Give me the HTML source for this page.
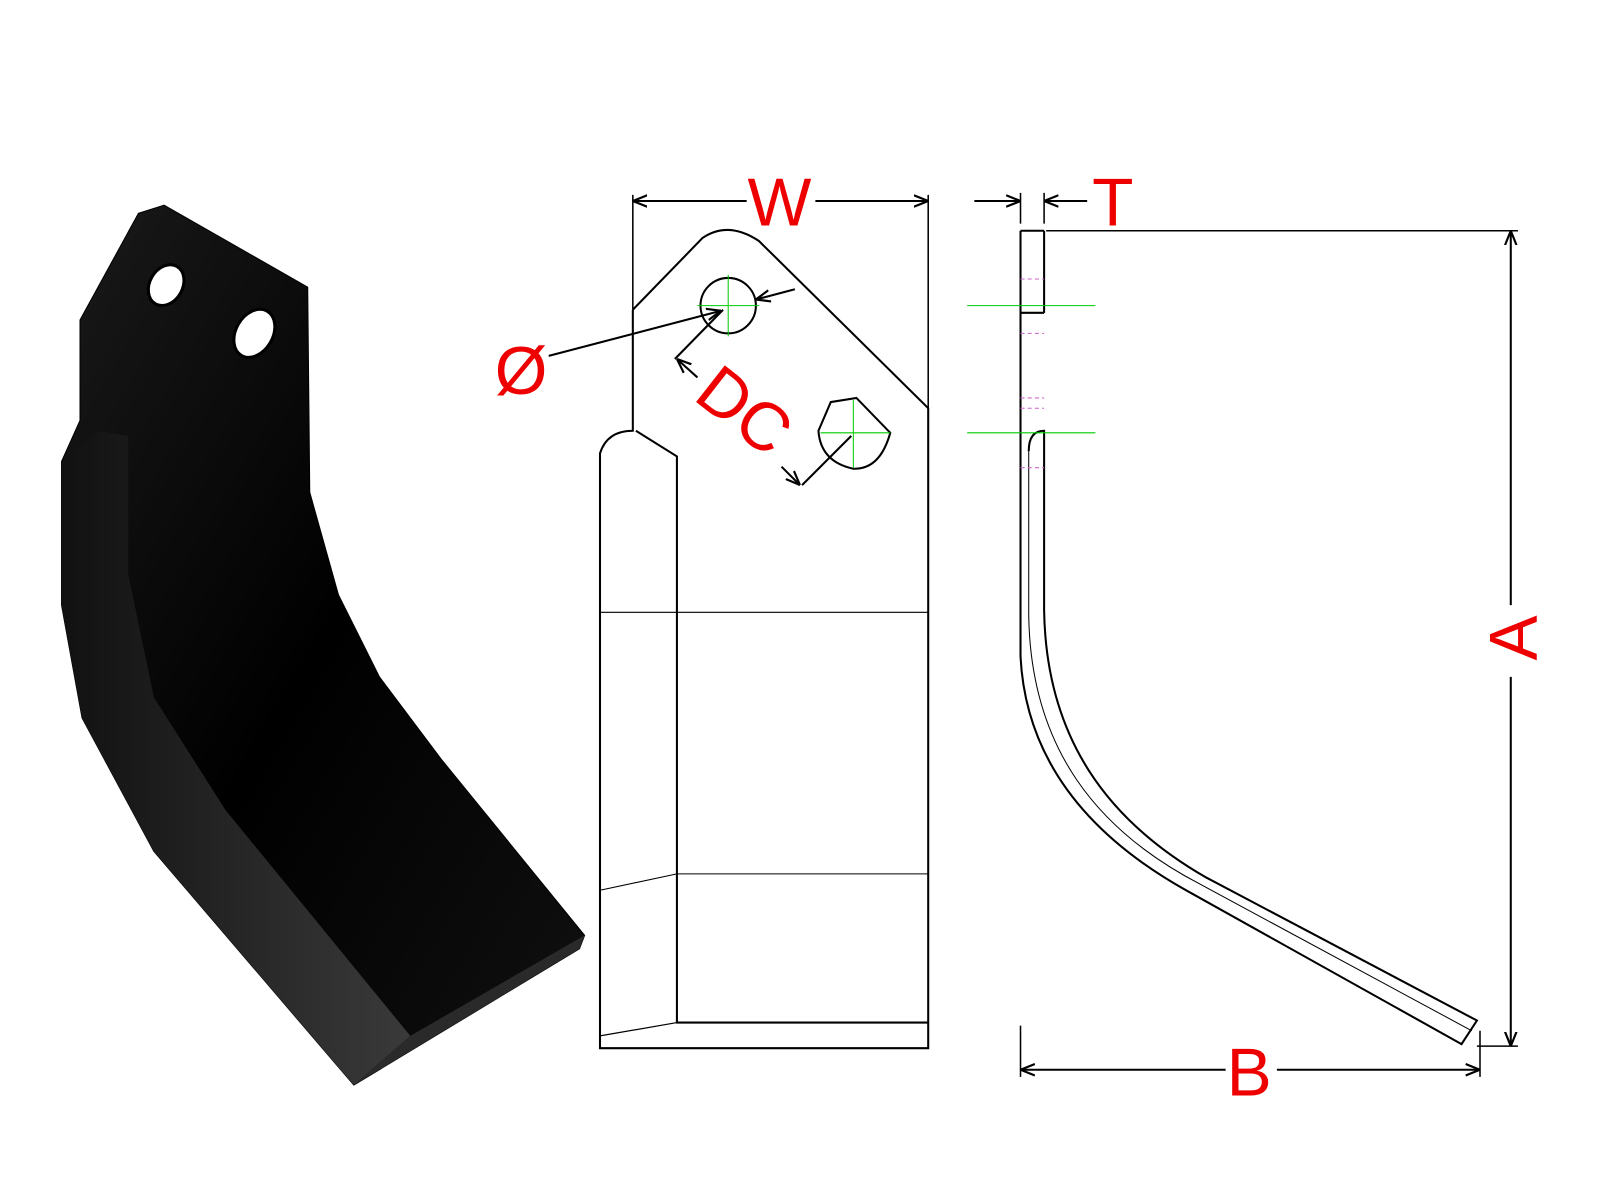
<!DOCTYPE html><html><head><style>body{margin:0;background:#fff}svg{display:block}</style></head><body>
<svg width="1600" height="1200" viewBox="0 0 1560 1170" xmlns="http://www.w3.org/2000/svg" font-family="Liberation Sans, sans-serif">
<defs>
<marker id="ar" viewBox="0 0 10 10" refX="10" refY="5" markerWidth="14" markerHeight="14" orient="auto-start-reverse" markerUnits="userSpaceOnUse"><path d="M0,1 L10,5 L0,9" fill="none" stroke="#000" stroke-width="1.5"/></marker>
<linearGradient id="g1" x1="0" y1="0" x2="1" y2="1"><stop offset="0" stop-color="#1a1a1a"/><stop offset=".5" stop-color="#000"/><stop offset="1" stop-color="#111"/></linearGradient>
<linearGradient id="g2" x1="0" y1="0" x2="1" y2="0"><stop offset="0" stop-color="#111"/><stop offset="1" stop-color="#3a3a3a"/></linearGradient>
</defs>
<path d="M78,312 L135,208 L160,200 L300,280 L302,480 L330,580 L370,660 L430,740 L570,912 L565,925 L345,1058 L150,830 L80,700 L60,590 L60,450 L78,410 Z" fill="url(#g1)" stroke="#000"/>
<path d="M60,450 L95,420 L125,425 L125,560 L150,680 L220,790 L400,1010 L345,1058 L150,830 L80,700 L60,590 Z" fill="url(#g2)"/>
<path d="M400,1010 L570,912 L565,925 L345,1058 Z" fill="#2a2a2a"/>
<ellipse cx="162" cy="278" rx="16" ry="21" transform="rotate(30 162 278)" fill="#fff" stroke="#000" stroke-width="3"/>
<ellipse cx="248" cy="325" rx="18" ry="25" transform="rotate(30 248 325)" fill="#fff" stroke="#000" stroke-width="3"/>
<g fill="none" stroke="#000" stroke-width="2">
<path d="M617,302 L685,232 Q710,215 740,235 L905,398 L905,1022 L585,1022 L585,442 Q592,420 617,420 L617,302"/>
<path d="M620,420 L660,445 L660,997 L905,997"/>
<path d="M585,1010 L660,997" stroke-width="1.2"/>
<path d="M585,597 L905,597 M660,852 L905,852 M585,868 L660,852" stroke-width="1"/>
<circle cx="710" cy="298" r="27"/>
<path d="M810,392 L835,388 L868,422 Q858,458 832,457 Q800,450 798,420 Z"/>
<path d="M995,225 L1018,225 M995,225 L995,640 C1000,740 1060,815 1160,870 L1425,1018 L1440,995 L1175,855 C1080,800 1020,720 1018,595 L1018,420 Q1003,420 1003,440 M1018,225 L1018,305 M995,305 L1018,305"/>
<path d="M1003,440 L1003,600 C1005,730 1070,810 1170,862 L1435,1005" stroke-width="1"/>
<path d="M617,190 L617,302 M905,190 L905,398 M995,188 L995,218 M1018,188 L1018,218 M1020,225 L1480,225 M1440,1020 L1480,1020 M995,1000 L995,1050 M1443,1005 L1443,1050" stroke-width="1.5"/>
<path d="M705,302 L658,350 M830,425 L782,473" stroke-width="2"/>
</g>
<g stroke="#000" stroke-width="2" fill="none" marker-end="url(#ar)">
<path d="M728,196 L617,196"/><path d="M795,196 L905,196"/>
<path d="M950,196 L995,196"/><path d="M1060,196 L1018,196"/>
<path d="M1473,590 L1473,225"/><path d="M1473,660 L1473,1020"/>
<path d="M1195,1043 L995,1043"/><path d="M1245,1043 L1443,1043"/>
<path d="M535,347 L703,303"/>
<path d="M775,282 L737,292"/>
<path d="M680,368 L660,350"/>
<path d="M762,455 L780,473"/>
</g>
<g stroke="#0c0" stroke-width="1">
<path d="M943,298 L1068,298 M943,422 L1068,422 M680,298 L740,298 M710,268 L710,328 M800,422 L868,422 M832,390 L832,456"/>
</g>
<g stroke="#c6c" stroke-width="1" stroke-dasharray="4,3"><path d="M995,272 L1018,272 M995,325 L1018,325 M995,388 L1018,388 M995,398 L1018,398 M995,456 L1018,456"/></g>
<g fill="#e00" font-size="66">
<text x="760" y="220" text-anchor="middle">W</text>
<text x="1085" y="220" text-anchor="middle">T</text>
<text x="508" y="384" text-anchor="middle">Ø</text>
<text x="1218" y="1068" text-anchor="middle">B</text>
<text transform="translate(1498,622) rotate(-90)" text-anchor="middle">A</text>
<text transform="translate(712,418) rotate(38)" text-anchor="middle">DC</text>
</g>
</svg></body></html>
